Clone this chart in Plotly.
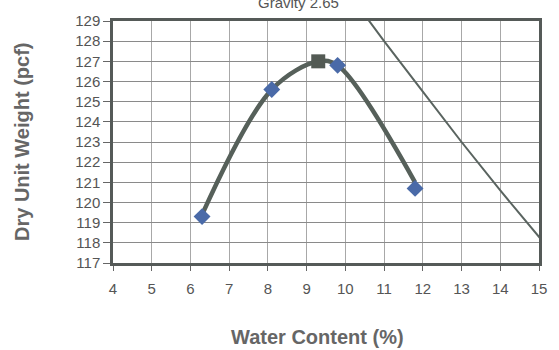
import plotly.graph_objects as go

# Test points (water content %, dry unit weight pcf)
test_w = [6.3, 8.1, 9.8, 11.8]
test_gd = [119.3, 125.6, 126.8, 120.7]

# Optimum point
opt_w = [9.3]
opt_gd = [127.0]

# Compaction curve points (through tests and optimum)
curve_w = [6.3, 8.1, 9.3, 9.8, 11.8]
curve_gd = [119.4, 125.6, 127.0, 126.8, 121.0]

# Zero-air-voids line
zav_w = [10.5, 11, 12, 13, 14, 15, 15.3]
zav_gd = [129.3, 128.0, 125.5, 123.0, 120.6, 118.3, 117.6]

x_ticks = list(range(4, 16))
y_ticks = list(range(117, 130))

font_fam = "Liberation Sans, Arial, sans-serif"

fig = go.Figure()
fig.add_trace(go.Scatter(x=zav_w, y=zav_gd, mode="lines",
                         line=dict(color="#5a6460", width=2), showlegend=False))
fig.add_trace(go.Scatter(x=curve_w, y=curve_gd, mode="lines",
                         line=dict(color="#56605a", width=4.5, shape="spline", smoothing=1.0),
                         showlegend=False))
fig.add_trace(go.Scatter(x=test_w, y=test_gd, mode="markers",
                         marker=dict(symbol="diamond", size=13, color="#4a6aa8"),
                         showlegend=False))
fig.add_trace(go.Scatter(x=opt_w, y=opt_gd, mode="markers",
                         marker=dict(symbol="square", size=14, color="#535a54"),
                         showlegend=False))

fig.update_layout(
    width=559, height=350,
    margin=dict(l=113, r=13, t=15, b=87),
    paper_bgcolor="white", plot_bgcolor="white",
    font=dict(family=font_fam, color="#555555", size=15),
    xaxis=dict(range=[4, 15], tickvals=x_ticks, ticktext=[str(v) for v in x_ticks],
               showgrid=True, gridcolor="#a8a8a8", gridwidth=1,
               showline=True, linecolor="#555a58", linewidth=2.5, mirror=True,
               ticks="outside", ticklen=5, tickcolor="#666666", ticklabelstandoff=5,
               tickfont=dict(size=15, color="#555555"), zeroline=False),
    yaxis=dict(range=[117, 129], tickvals=y_ticks, ticktext=[str(v) for v in y_ticks],
               showgrid=True, gridcolor="#8a8a8a", gridwidth=1,
               showline=True, linecolor="#555a58", linewidth=2.5, mirror=True,
               ticks="outside", ticklen=7, tickcolor="#666666",
               tickfont=dict(size=15, color="#555555"), zeroline=False),
    annotations=[
        dict(text="<b>Water Content (%)</b>", xref="paper", yref="paper",
             x=0.48, y=0, yshift=-74, xanchor="center", yanchor="middle",
             showarrow=False, font=dict(size=20, color="#666666")),
        dict(text="<b>Dry Unit Weight (pcf)</b>", xref="paper", yref="paper",
             x=0, xshift=-91, y=0.5, xanchor="center", yanchor="middle", textangle=-90,
             showarrow=False, font=dict(size=20, color="#666666")),
        dict(text="Gravity 2.65", xref="paper", yref="paper",
             x=0.436, y=1, yshift=19, xanchor="center", yanchor="middle",
             showarrow=False, font=dict(size=15, color="#555555")),
    ],
)

fig.write_html("out.html", config={"displayModeBar": False},
               post_script="document.body.style.margin='0';")
